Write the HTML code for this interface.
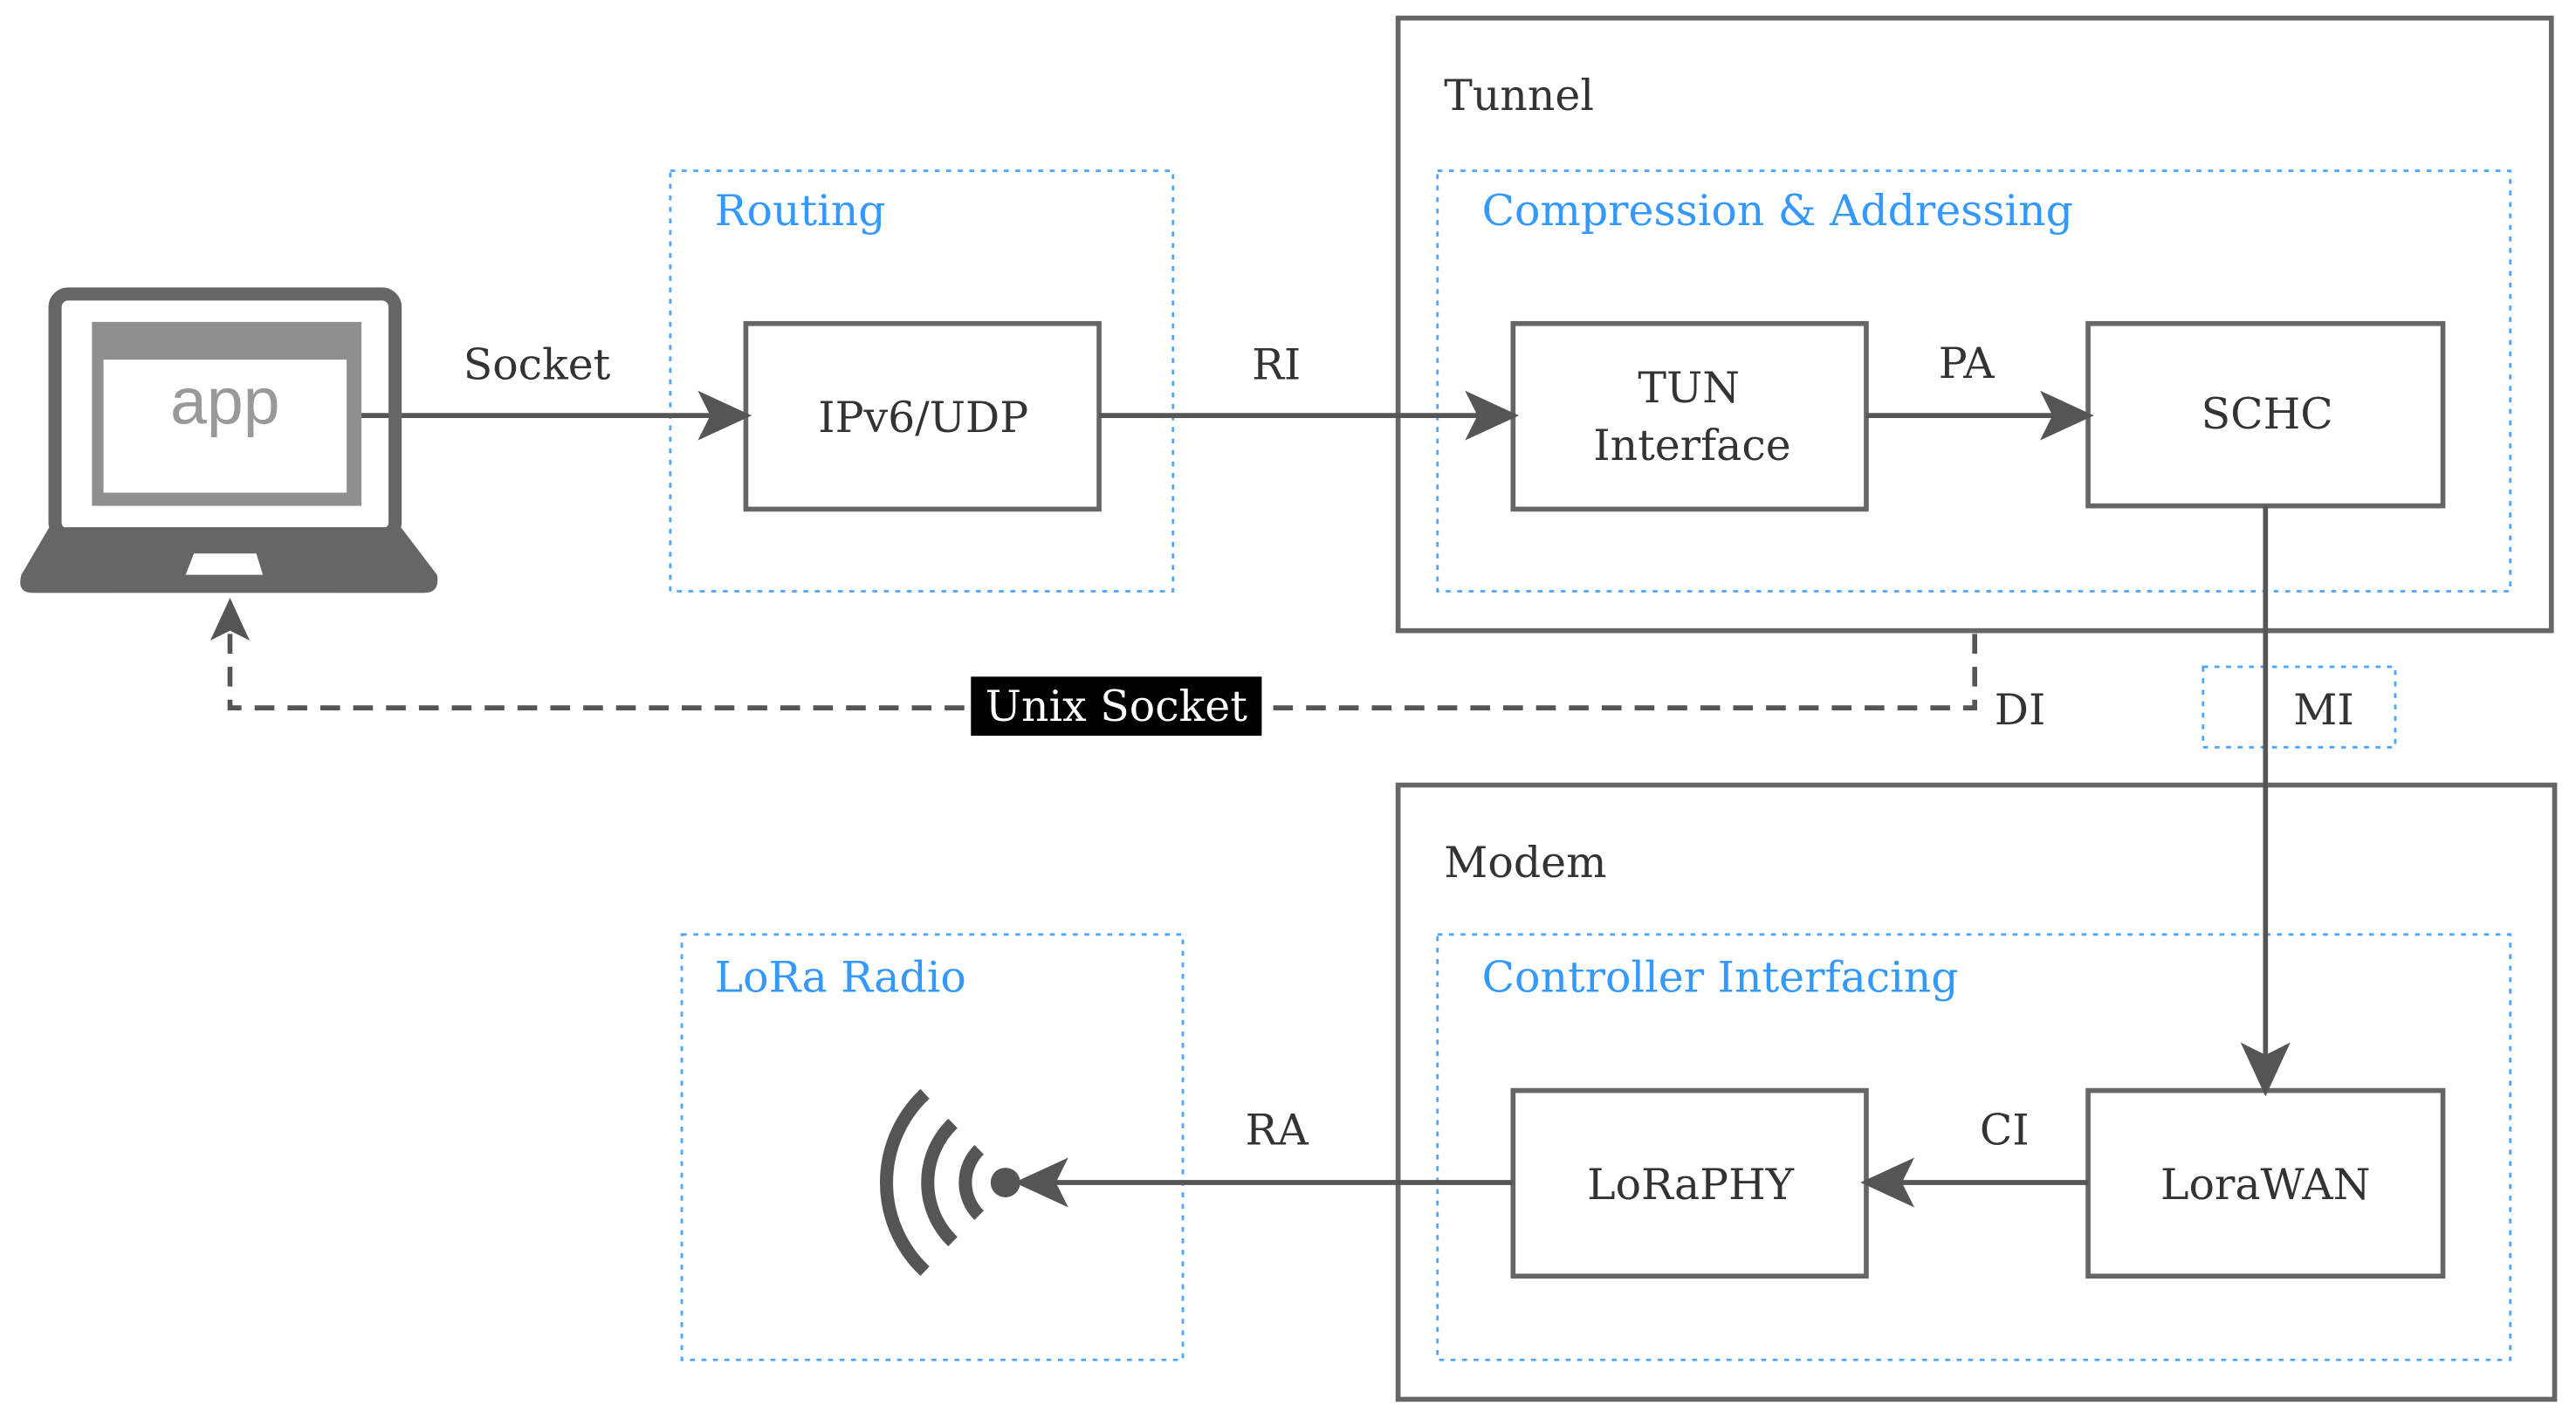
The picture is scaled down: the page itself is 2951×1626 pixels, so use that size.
<!DOCTYPE html>
<html><head><meta charset="utf-8"><style>
html,body{margin:0;padding:0;background:#fff;}
svg{display:block;}
text{font-family:"DejaVu Serif","Liberation Serif",serif;}
</style></head><body>
<svg width="2951" height="1626" viewBox="0 0 1568 864" preserveAspectRatio="none" xmlns="http://www.w3.org/2000/svg">
<g fill="none" stroke="#666" stroke-width="3">
<rect x="851" y="11" width="702" height="373"/>
<rect x="851" y="478" width="704" height="374"/>
<rect x="454" y="197" width="215" height="113"/>
<rect x="921" y="197" width="215" height="113"/>
<rect x="1271" y="197" width="216" height="111"/>
<rect x="921" y="664" width="215" height="113"/>
<rect x="1271" y="664" width="216" height="113"/>
</g>
<g fill="none" stroke="#4da6ff" stroke-width="1.5" stroke-dasharray="3,4">
<rect x="408" y="104" width="306" height="256"/>
<rect x="875" y="104" width="653" height="256"/>
<rect x="875" y="569" width="653" height="259"/>
<rect x="415" y="569" width="305" height="259"/>
<rect x="1341" y="406" width="117" height="49"/>
</g>
<g stroke="#555" stroke-width="3" fill="#555">
<line x1="220" y1="253" x2="440" y2="253"/>
<path d="M454,253 L428,241 L434,253 L428,265 z"/>
<line x1="669" y1="253" x2="907" y2="253"/>
<path d="M921,253 L895,241 L901,253 L895,265 z"/>
<line x1="1136" y1="253" x2="1257" y2="253"/>
<path d="M1271,253 L1245,241 L1251,253 L1245,265 z"/>
<line x1="1379" y1="308" x2="1379" y2="650"/>
<path d="M1379,664 L1367,638 L1379,644 L1391,638 z"/>
<line x1="1271" y1="720" x2="1150" y2="720"/>
<path d="M1136,720 L1162,708 L1156,720 L1162,732 z"/>
<line x1="921" y1="720" x2="635" y2="720"/>
<path d="M621,720 L647,708 L641,720 L647,732 z"/>
</g>
<polyline points="1202,386 1202,431 140,431 140,380" fill="none" stroke="#555" stroke-width="3" stroke-dasharray="12,8"/>
<path d="M140,364 L128,390 L140,384 L152,390 z" fill="#555"/>
<rect x="591" y="412" width="177" height="36" fill="#000"/>
<text x="679.5" y="439" font-size="26" fill="#fff" text-anchor="middle">Unix Socket</text>
<rect x="33.5" y="179" width="207" height="147" rx="8" fill="none" stroke="#666" stroke-width="8"/>
<path d="M30,321 L244,321 L266,350 Q268,361 258,361 L20,361 Q10,361 13,350 z" fill="#666"/>
<path d="M118,337 L156,337 L160,350 L113,350 z" fill="#fff"/>
<rect x="56" y="196" width="164" height="112" fill="#8f8f8f"/>
<rect x="63" y="219" width="148" height="81" fill="#fff"/>
<text x="137" y="258" font-size="40" fill="#999" text-anchor="middle" style="font-family:'Liberation Sans',sans-serif">app</text>
<circle cx="612" cy="720" r="9" fill="#555"/>
<g fill="none" stroke="#555" stroke-width="8">
<path d="M596,700 A28,28 0 0,0 596,740"/>
<path d="M580,684 A50,50 0 0,0 580,756"/>
<path d="M563,666 A74,74 0 0,0 563,774"/>
</g>
<g font-size="26" fill="#333">
<text x="879" y="67">Tunnel</text>
<text x="879" y="534">Modem</text>
<text x="282" y="231">Socket</text>
<text x="762" y="231">RI</text>
<text x="1180" y="230">PA</text>
<text x="1205" y="697">CI</text>
<text x="758" y="697">RA</text>
<text x="1214" y="441">DI</text>
<text x="1396" y="441">MI</text>
<text x="562" y="263" text-anchor="middle">IPv6/UDP</text>
<text x="1028" y="245" text-anchor="middle">TUN</text>
<text x="1030" y="280" text-anchor="middle">Interface</text>
<text x="1380" y="261" text-anchor="middle">SCHC</text>
<text x="1029" y="730" text-anchor="middle">LoRaPHY</text>
<text x="1379" y="730" text-anchor="middle">LoraWAN</text>
</g>
<g font-size="26" fill="#3399ff">
<text x="435" y="137">Routing</text>
<text x="902" y="137">Compression &amp; Addressing</text>
<text x="902" y="604">Controller Interfacing</text>
<text x="435" y="604">LoRa Radio</text>
</g>
</svg>
</body></html>
